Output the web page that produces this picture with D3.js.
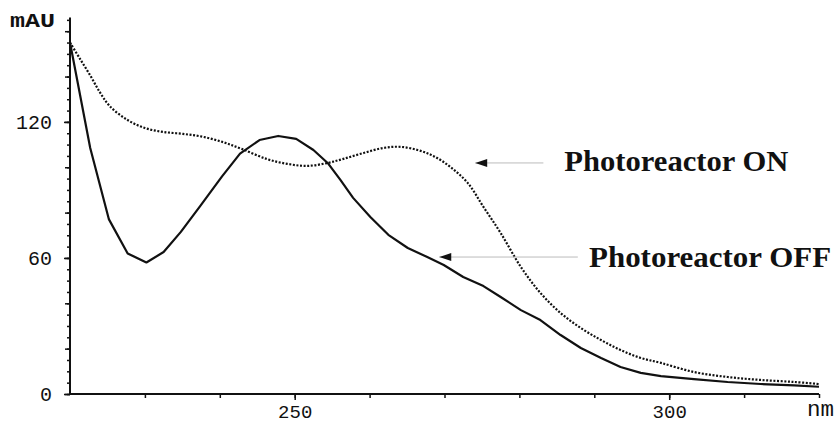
<!DOCTYPE html>
<html>
<head>
<meta charset="utf-8">
<script src="https://cdn.jsdelivr.net/npm/d3@7"></script>
<style>
  body { margin: 0; background: #fff; }
  svg { display: block; }
</style>
</head>
<body>
<div id="chart"></div>
<script>
// wavelengths (nm) and absorbance (mAU)
var nmOff = [220, 222.7, 225.2, 227.7, 230.2, 232.5, 234.8, 237.4, 240.3, 242.7, 245.3, 247.8, 250.2, 252.5, 254.4, 256.1, 257.8, 260.1, 262.5, 265.1, 267.7, 269.9, 272.5, 275.2, 277.5, 280.2, 282.8, 285.5, 288.2, 290.9, 293.5, 296.2, 298.9, 303.3, 307.8, 312.2, 316.7, 320];
var mauOff = [155, 108.5, 77, 62, 58, 62.6, 71.5, 83, 96, 106, 112, 113.8, 112.5, 107.6, 101.9, 94.4, 86.5, 78.1, 70.2, 64.4, 60.4, 56.9, 51.6, 47.6, 42.8, 37, 32.6, 26, 20.3, 15.9, 11.9, 9.3, 7.9, 6.6, 5.3, 4.4, 3.8, 3.2];

var nmOn = [220, 221.3, 222.7, 224, 225.3, 227.6, 230, 232.4, 235.1, 237.8, 240.5, 243, 246.3, 249, 251.7, 254.4, 256.5, 259.2, 261.8, 264.1, 266.4, 268.5, 270.8, 273.1, 275.2, 277.5, 280.2, 282.8, 285.5, 288.2, 290.9, 293.5, 296.2, 298.9, 303.3, 307.8, 312.2, 316.7, 320];
var mauOn = [155, 148, 140.5, 133, 127, 121, 117.3, 115.6, 114.7, 113.4, 111, 108, 103.6, 101.5, 100.6, 101.9, 103.7, 106.3, 108.5, 109, 107.6, 105, 100.1, 93.1, 82.5, 71, 56, 44.6, 35.7, 29.1, 23.8, 19.4, 15.9, 13.7, 9.7, 7.5, 6.2, 5.3, 4.4];

var xMajor = [250, 300];
var yMajor = [0, 60, 120];

// annotation labels: text, arrow tip [nm, mAU], arrow tail nm, label nm / mAU
var labels = [
  { text: "Photoreactor ON", tip: [274.1, 101.9], tail: 283.2, at: [286.0, 98.4], len: 224 },
  { text: "Photoreactor OFF", tip: [269.3, 60.4], tail: 287.8, at: [289.3, 56.0], len: 242 }
];

var W = 837, H = 425;
var margin = { top: 17.6, right: 18, bottom: 31, left: 70 };

var svg = d3.select("#chart").append("svg")
  .attr("width", W).attr("height", H);

var x = d3.scaleLinear().domain([220, 320]).range([margin.left, W - margin.right]);
var y = d3.scaleLinear().domain([0, 166]).range([H - margin.bottom, margin.top]);

var mono = "'Liberation Mono', 'Courier New', monospace";

// x axis: minor ticks every 10 nm, labels at 250 / 300
svg.append("g")
  .attr("transform", "translate(0," + y(0) + ")")
  .call(d3.axisBottom(x).tickValues(d3.range(230, 321, 10)).tickSize(4).tickFormat(""))
  .call(function (g) { g.select(".domain").remove(); });
svg.append("g")
  .attr("transform", "translate(0," + y(0) + ")")
  .call(d3.axisBottom(x).tickValues(xMajor).tickSize(6).tickPadding(5).tickFormat(d3.format("d")))
  .call(function (g) { g.select(".domain").remove(); })
  .selectAll("text").attr("font-family", mono).attr("font-size", 19).attr("fill", "#111");

// y axis: minor every 5, medium every 20, labelled at 0/60/120
svg.append("g")
  .attr("transform", "translate(" + x(220) + ",0)")
  .call(d3.axisLeft(y).tickValues(d3.range(0, 166, 5)).tickSize(3).tickFormat(""))
  .call(function (g) { g.select(".domain").remove(); });
svg.append("g")
  .attr("transform", "translate(" + x(220) + ",0)")
  .call(d3.axisLeft(y).tickValues(d3.range(0, 166, 20)).tickSize(5).tickFormat(""))
  .call(function (g) { g.select(".domain").remove(); });
svg.append("g")
  .attr("transform", "translate(" + x(220) + ",0)")
  .call(d3.axisLeft(y).tickValues(yMajor).tickSize(6).tickPadding(12).tickFormat(d3.format("d")))
  .call(function (g) { g.select(".domain").remove(); })
  .selectAll("text").attr("font-family", mono).attr("font-size", 20).attr("fill", "#111");

svg.selectAll(".tick line").attr("stroke", "#111").attr("stroke-width", 1.5);

// axis lines
svg.append("line")
  .attr("x1", x(220)).attr("x2", x(220))
  .attr("y1", y(0)).attr("y2", y(166))
  .attr("stroke", "#111").attr("stroke-width", 2);
svg.append("line")
  .attr("x1", x(220)).attr("x2", x(320))
  .attr("y1", y(0)).attr("y2", y(0))
  .attr("stroke", "#111").attr("stroke-width", 2);

// axis titles
svg.append("text")
  .attr("x", 10).attr("y", 27)
  .attr("font-family", mono).attr("font-weight", "bold").attr("font-size", 21)
  .attr("textLength", 45).attr("lengthAdjust", "spacingAndGlyphs")
  .attr("fill", "#111")
  .text("mAU");
svg.append("text")
  .attr("x", 807).attr("y", 416)
  .attr("font-family", mono).attr("font-size", 22)
  .attr("textLength", 27).attr("lengthAdjust", "spacingAndGlyphs")
  .attr("fill", "#111")
  .text("nm");

// curves
var offData = nmOff.map(function (d, i) { return [d, mauOff[i]]; });
var onData = nmOn.map(function (d, i) { return [d, mauOn[i]]; });

var lineLin = d3.line().x(function (d) { return x(d[0]); }).y(function (d) { return y(d[1]); });
var lineSmooth = d3.line().x(function (d) { return x(d[0]); }).y(function (d) { return y(d[1]); })
  .curve(d3.curveCatmullRom);

svg.append("path")
  .datum(onData)
  .attr("d", lineSmooth)
  .attr("fill", "none")
  .attr("stroke", "#111")
  .attr("stroke-width", 2.2)
  .attr("stroke-dasharray", "2,1.6");

svg.append("path")
  .datum(offData)
  .attr("d", lineLin)
  .attr("fill", "none")
  .attr("stroke", "#111")
  .attr("stroke-width", 2.2)
  .attr("stroke-linejoin", "round");

// arrows + labels
var ann = svg.selectAll(".ann").data(labels).enter().append("g").attr("class", "ann");

ann.append("line")
  .attr("x1", function (d) { return x(d.tip[0]); })
  .attr("y1", function (d) { return y(d.tip[1]); })
  .attr("x2", function (d) { return x(d.tail); })
  .attr("y2", function (d) { return y(d.tip[1]); })
  .attr("stroke", "#bbb").attr("stroke-width", 1);

ann.append("path")
  .attr("d", function (d) {
    var tx = x(d.tip[0]), ty = y(d.tip[1]);
    return "M" + tx + "," + ty + "L" + (tx + 12) + "," + (ty - 4) + "L" + (tx + 12) + "," + (ty + 4) + "Z";
  })
  .attr("fill", "#111");

ann.append("text")
  .attr("x", function (d) { return x(d.at[0]); })
  .attr("y", function (d) { return y(d.at[1]); })
  .attr("font-family", "'Liberation Serif', 'Times New Roman', serif")
  .attr("font-weight", "bold")
  .attr("font-size", 30)
  .attr("textLength", function (d) { return d.len; })
  .attr("lengthAdjust", "spacingAndGlyphs")
  .attr("fill", "#111")
  .text(function (d) { return d.text; });
</script>
</body>
</html>
